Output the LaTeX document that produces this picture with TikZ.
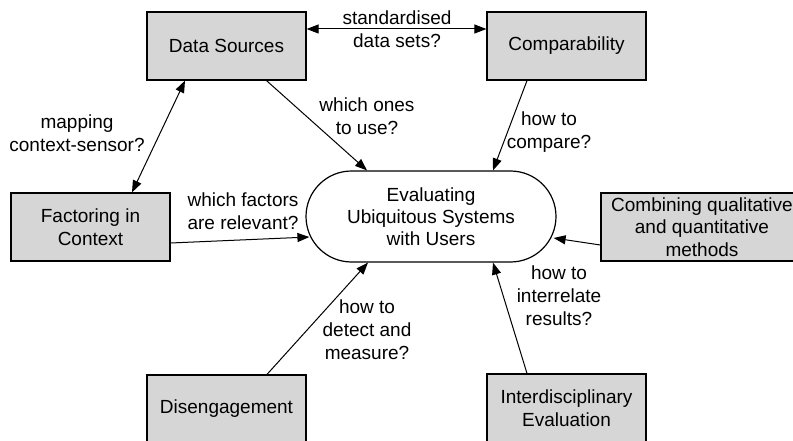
\documentclass[tikz,border=0pt]{standalone}
\usepackage{fontspec}
\setmainfont{Liberation Sans}
\usetikzlibrary{arrows.meta,shapes.misc}
\definecolor{boxgray}{RGB}{214,214,214}
\tikzset{
  box/.style={draw=black, fill=boxgray, line width=1.2pt, minimum width=159pt, minimum height=68pt, inner sep=0pt, align=center, font=\fontsize{19}{22.5}\selectfont},
  centre/.style={draw=black, fill=white, line width=1.2pt, rounded rectangle, minimum width=250pt, minimum height=91pt, inner sep=0pt, align=center, font=\fontsize{19}{22}\selectfont},
  lbl/.style={inner sep=0pt, align=center, font=\fontsize{19}{23}\selectfont},
  arr/.style={line width=1pt, -{Triangle[length=12pt,width=9pt]}},
  darr/.style={line width=1pt, {Triangle[length=12pt,width=9pt]}-{Triangle[length=12pt,width=9pt]}}
}
\begin{document}
\begin{tikzpicture}[x=1pt,y=-1pt]
\useasboundingbox (0,0) rectangle (793,441);
\fill[white] (0,0) rectangle (793,441);
\clip (0,0) rectangle (793,441);

\node[box] (ds) at (226.5,46) {Data Sources};
\node[box] (cp) at (566.5,46) {Comparability};
\node[box] (fc) at (90.5,227) {Factoring in\\Context};
\node[box, minimum width=202pt] (cb) at (702,227) {Combining qualitative\\and quantitative\\methods};
\node[box] (dg) at (226.5,409) {Disengagement};
\node[box] (ie) at (566.5,408) {Interdisciplinary\\Evaluation};
\node[centre] (ev) at (431,216.5) {Evaluating\\Ubiquitous Systems\\with Users};

\draw[darr] ([yshift=17pt]ds.east) -- ([yshift=17pt]cp.west);
\draw[arr] ([xshift=40pt]ds.south) -- ([xshift=-64pt]ev.north);
\draw[arr] ([xshift=-39.5pt]cp.south) -- ([xshift=62pt]ev.north);
\draw[darr] ([xshift=-41.5pt]ds.south) -- ([xshift=41.5pt]fc.north);
\draw[arr] ([yshift=-16pt]fc.east) -- ([xshift=4pt,yshift=-20.5pt]ev.west);
\draw[arr] ([xshift=40.5pt]dg.north) -- ([xshift=-63pt]ev.south);
\draw[arr] ([xshift=-39.5pt]ie.north) -- ([xshift=62pt]ev.south);
\draw[arr] ([yshift=-18pt]cb.west) -- ([xshift=-3pt,yshift=-21.5pt]ev.east);

\node[lbl] (l1) at (397,29) {standardised\\data sets?};
\node[lbl] (l2) at (367,116.5) {which ones\\to use?};
\node[lbl] (l3) at (549,132) {how to\\compare?};
\node[lbl] (l4) at (77,133.5) {mapping\\context-sensor?};
\node[lbl] (l5) at (243,211) {which factors\\are relevant?};
\node[lbl] (l6) at (367,330) {how to\\detect and\\measure?};
\node[lbl] (l7) at (559,296) {how to\\interrelate\\results?};
\end{tikzpicture}
\end{document}
